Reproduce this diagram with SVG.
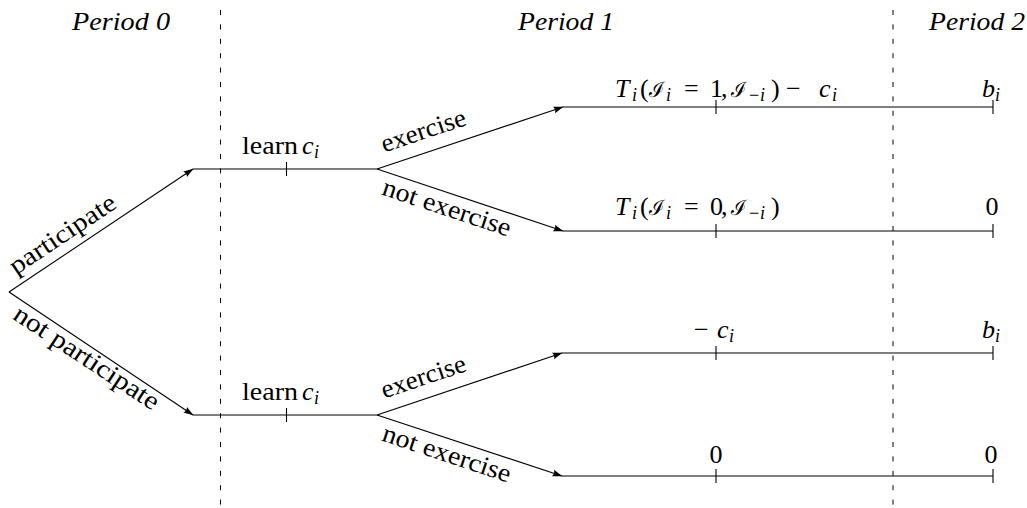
<svg xmlns="http://www.w3.org/2000/svg" width="1027" height="508" viewBox="0 0 1027 508">
<defs>
<style>
.ln{stroke:#000;stroke-width:1.1;fill:none}
.tick{stroke:#000;stroke-width:1.1}
.dash{stroke:#000;stroke-width:1;stroke-dasharray:5 9.4}
</style>
<marker id="arr" viewBox="-11 -5 12 10" refX="0" refY="0" markerWidth="12" markerHeight="10" markerUnits="userSpaceOnUse" orient="auto">
<path d="M0.5,0 L-9.5,-3.4 Q-7.3,0 -9.5,3.4 Z" fill="#000"/>
</marker>
</defs>
<rect width="1027" height="508" fill="#fff"/>

<g id="periods" font-family="Liberation Serif, serif" font-size="26" font-style="italic" fill="#000">
<text x="121" y="30" text-anchor="middle" textLength="98" lengthAdjust="spacingAndGlyphs">Period 0</text>
<text x="566" y="30" text-anchor="middle" textLength="96" lengthAdjust="spacingAndGlyphs">Period 1</text>
<text x="977" y="30" text-anchor="middle" textLength="96" lengthAdjust="spacingAndGlyphs">Period 2</text>
</g>

<g id="dividers">
<line class="dash" x1="220.5" y1="10" x2="220.5" y2="508"/>
<line class="dash" x1="893" y1="10" x2="893" y2="508"/>
</g>

<g id="connectors" font-family="Liberation Serif, serif" font-size="26" fill="#000">
<line class="ln" x1="9" y1="292" x2="193" y2="169" marker-end="url(#arr)"/>
<line class="ln" x1="9" y1="292" x2="193" y2="415" marker-end="url(#arr)"/>
<line class="ln" x1="377" y1="169" x2="563" y2="107" marker-end="url(#arr)"/>
<line class="ln" x1="377" y1="169" x2="563" y2="231" marker-end="url(#arr)"/>
<line class="ln" x1="377" y1="415" x2="562" y2="353" marker-end="url(#arr)"/>
<line class="ln" x1="377" y1="415" x2="562" y2="476" marker-end="url(#arr)"/>
<text transform="translate(67,241) rotate(-33.76)" text-anchor="middle" textLength="123" lengthAdjust="spacingAndGlyphs">participate</text>
<text transform="translate(82,364.6) rotate(33.33)" text-anchor="middle" textLength="169" lengthAdjust="spacingAndGlyphs">not participate</text>
<text transform="translate(426,138.5) rotate(-18.4)" text-anchor="middle" textLength="88" lengthAdjust="spacingAndGlyphs">exercise</text>
<text transform="translate(444.3,215.5) rotate(18.4)" text-anchor="middle" textLength="134" lengthAdjust="spacingAndGlyphs">not exercise</text>
<text transform="translate(426,384.5) rotate(-18.4)" text-anchor="middle" textLength="88" lengthAdjust="spacingAndGlyphs">exercise</text>
<text transform="translate(444.3,461.5) rotate(18.4)" text-anchor="middle" textLength="134" lengthAdjust="spacingAndGlyphs">not exercise</text>
</g>

<g id="learn-upper" font-family="Liberation Serif, serif" font-size="26" fill="#000">
<line class="ln" x1="193" y1="169" x2="377" y2="169"/>
<line class="tick" x1="286.5" y1="162" x2="286.5" y2="176"/>
<text y="154"><tspan x="242" textLength="56" lengthAdjust="spacingAndGlyphs">learn</tspan><tspan x="302" font-style="italic">c</tspan><tspan x="314" y="158" font-style="italic" font-size="18">i</tspan></text>
</g>

<g id="learn-lower" font-family="Liberation Serif, serif" font-size="26" fill="#000">
<line class="ln" x1="193" y1="415" x2="377" y2="415"/>
<line class="tick" x1="286.5" y1="408" x2="286.5" y2="422"/>
<text y="400"><tspan x="242" textLength="56" lengthAdjust="spacingAndGlyphs">learn</tspan><tspan x="302" font-style="italic">c</tspan><tspan x="314" y="404" font-style="italic" font-size="18">i</tspan></text>
</g>

<g id="outcome-1" font-family="Liberation Serif, serif" font-size="26" fill="#000">
<line class="ln" x1="563" y1="107" x2="993" y2="107"/>
<line class="tick" x1="716" y1="100" x2="716" y2="114"/>
<line class="tick" x1="993" y1="100" x2="993" y2="114"/>
<text y="97"><tspan x="615" font-style="italic">T</tspan><tspan x="632" y="101" font-style="italic" font-size="18">i</tspan><tspan x="640" y="97">(</tspan><tspan x="649" font-family="DejaVu Serif, serif" font-size="21">ℐ</tspan><tspan x="666" y="101" font-style="italic" font-size="18">i</tspan><tspan x="684" y="97">=</tspan><tspan x="710">1</tspan><tspan x="721">,</tspan><tspan x="731" font-family="DejaVu Serif, serif" font-size="21">ℐ</tspan><tspan x="749" y="101" font-size="18">−</tspan><tspan x="760" font-style="italic" font-size="18">i</tspan><tspan x="771" y="97">)</tspan><tspan x="786">−</tspan><tspan x="819" font-style="italic">c</tspan><tspan x="832" y="101" font-style="italic" font-size="18">i</tspan></text>
<text y="97"><tspan x="982" font-style="italic">b</tspan><tspan x="995" y="101" font-style="italic" font-size="18">i</tspan></text>
</g>

<g id="outcome-2" font-family="Liberation Serif, serif" font-size="26" fill="#000">
<line class="ln" x1="563" y1="231" x2="993" y2="231"/>
<line class="tick" x1="716" y1="224" x2="716" y2="238"/>
<line class="tick" x1="993" y1="224" x2="993" y2="238"/>
<text y="215"><tspan x="615" font-style="italic">T</tspan><tspan x="632" y="219" font-style="italic" font-size="18">i</tspan><tspan x="640" y="215">(</tspan><tspan x="649" font-family="DejaVu Serif, serif" font-size="21">ℐ</tspan><tspan x="666" y="219" font-style="italic" font-size="18">i</tspan><tspan x="684" y="215">=</tspan><tspan x="710">0</tspan><tspan x="721">,</tspan><tspan x="731" font-family="DejaVu Serif, serif" font-size="21">ℐ</tspan><tspan x="749" y="219" font-size="18">−</tspan><tspan x="760" font-style="italic" font-size="18">i</tspan><tspan x="771" y="215">)</tspan></text>
<text x="992" y="215" text-anchor="middle">0</text>
</g>

<g id="outcome-3" font-family="Liberation Serif, serif" font-size="26" fill="#000">
<line class="ln" x1="562" y1="353" x2="993" y2="353"/>
<line class="tick" x1="716" y1="346" x2="716" y2="360"/>
<line class="tick" x1="993" y1="346" x2="993" y2="360"/>
<text y="338"><tspan x="694">−</tspan><tspan x="717" font-style="italic">c</tspan><tspan x="729" y="342" font-style="italic" font-size="18">i</tspan></text>
<text y="338"><tspan x="982" font-style="italic">b</tspan><tspan x="995" y="342" font-style="italic" font-size="18">i</tspan></text>
</g>

<g id="outcome-4" font-family="Liberation Serif, serif" font-size="26" fill="#000">
<line class="ln" x1="562" y1="476" x2="993" y2="476"/>
<line class="tick" x1="716" y1="469" x2="716" y2="483"/>
<line class="tick" x1="993" y1="469" x2="993" y2="483"/>
<text x="716" y="463" text-anchor="middle">0</text>
<text x="991" y="463" text-anchor="middle">0</text>
</g>
</svg>
